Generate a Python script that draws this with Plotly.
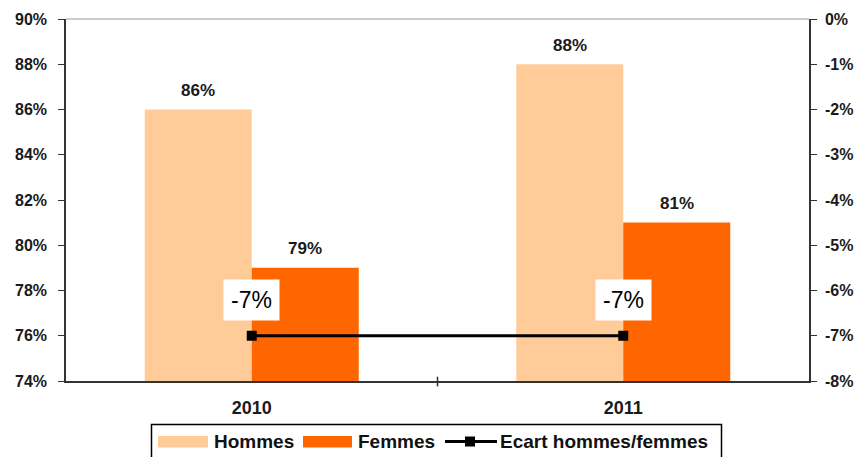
import plotly.graph_objects as go

categories = ["2010", "2011"]
hommes = [0.86, 0.88]
femmes = [0.79, 0.81]
ecart = [-0.07, -0.07]
left_ticks = [0.74, 0.76, 0.78, 0.80, 0.82, 0.84, 0.86, 0.88, 0.90]
right_ticks = [-0.08, -0.07, -0.06, -0.05, -0.04, -0.03, -0.02, -0.01, 0.0]
series_names = ["Hommes", "Femmes", "Ecart hommes/femmes"]

FONT = "Liberation Sans, Arial, sans-serif"
C_H = "#FFCC99"
C_F = "#FF6600"

W, H = 858, 457
ML, MR, MT, MB = 66, 49, 19, 76
PW, PH = W - ML - MR, H - MT - MB


def px(x):
    return (x - ML) / PW


def py(y):
    return (H - MB - y) / PH


fig = go.Figure()
fig.add_trace(go.Bar(x=categories, y=hommes, name=series_names[0], marker_color=C_H,
                     marker_line_width=0))
fig.add_trace(go.Bar(x=categories, y=femmes, name=series_names[1], marker_color=C_F,
                     marker_line_width=0))
fig.add_trace(go.Scatter(x=categories, y=ecart, name=series_names[2], yaxis="y2",
                         mode="lines+markers", line=dict(color="black", width=3),
                         marker=dict(symbol="square", size=10, color="black")))

# value labels (category axis: annotation x is the category index)
for i, c in enumerate(categories):
    for val, off in ((hommes[i], -0.5), (femmes[i], 0.5)):
        fig.add_annotation(x=i, y=val, text=f"<b>{round(val*100)}%</b>", showarrow=False,
                           xref="x", yref="y", xshift=off * 107, yshift=19,
                           font=dict(family=FONT, size=17, color="#1a1a1a"))
    fig.add_annotation(x=i, y=ecart[i], xref="x", yref="y2", text=f"{round(ecart[i]*100)}%",
                       showarrow=False, yshift=36, bgcolor="white", borderpad=7,
                       font=dict(family=FONT, size=23, color="black"))

axis_font = dict(family=FONT, size=16, color="#1a1a1a", weight="bold")
fig.update_layout(
    width=W, height=H,
    margin=dict(l=ML, r=MR, t=MT, b=MB),
    plot_bgcolor="white", paper_bgcolor="white",
    barmode="group", bargap=0.424, bargroupgap=0,
    font=dict(family=FONT, size=13, color="#222"),
    showlegend=False,
    xaxis=dict(type="category", range=[-0.5, 1.5], showline=True, linecolor="#333",
               linewidth=1.5, ticks="", showgrid=False, automargin=False,
               ticklabelstandoff=10,
               tickfont=dict(family=FONT, size=18, color="#1a1a1a", weight="bold")),
    yaxis=dict(range=[0.74, 0.90], tickvals=left_ticks,
               ticktext=[f"{round(v*100)}%" for v in left_ticks],
               showline=True, linecolor="#333", linewidth=1.5, ticks="outside", ticklen=6,
               tickcolor="#333", showgrid=False, zeroline=False, automargin=False,
               ticklabelstandoff=8, tickfont=axis_font),
    yaxis2=dict(range=[-0.08, 0.0], overlaying="y", side="right", tickvals=right_ticks,
                ticktext=[f"{round(v*100)}%" for v in right_ticks],
                showline=True, linecolor="#333", linewidth=1.5, ticks="outside", ticklen=6,
                tickcolor="#333", showgrid=False, zeroline=False, automargin=False,
                ticklabelstandoff=5, tickfont=axis_font),
)
# top border of plot area
fig.add_shape(type="line", xref="paper", yref="paper", x0=0, x1=1, y0=1, y1=1,
              line=dict(color="#999", width=1))
# category separator tick
fig.add_shape(type="line", xref="paper", yref="paper", x0=0.5, x1=0.5, y0=0.012, y1=-0.015,
              line=dict(color="#333", width=1.5))

# custom legend
fig.add_shape(type="rect", xref="paper", yref="paper", x0=px(151.5), x1=px(721.5),
              y0=py(424.5), y1=py(462), line=dict(color="black", width=1.5),
              fillcolor="white", layer="below")
fig.add_shape(type="rect", xref="paper", yref="paper", x0=px(158), x1=px(208),
              y0=py(436), y1=py(447.5), line=dict(width=0), fillcolor=C_H)
fig.add_shape(type="rect", xref="paper", yref="paper", x0=px(303), x1=px(352),
              y0=py(436), y1=py(447.5), line=dict(width=0), fillcolor=C_F)
fig.add_shape(type="line", xref="paper", yref="paper", x0=px(445), x1=px(497),
              y0=py(441.5), y1=py(441.5), line=dict(color="black", width=3))
fig.add_shape(type="rect", xref="paper", yref="paper", x0=px(465), x1=px(475),
              y0=py(436.5), y1=py(446.5), line=dict(width=0), fillcolor="black")
for name, x0 in zip(series_names, (212, 356, 498)):
    fig.add_annotation(xref="paper", yref="paper", x=px(x0), y=py(441.5), xanchor="left",
                       yanchor="middle", showarrow=False, text=f"<b>{name}</b>",
                       font=dict(family=FONT, size=19, color="#111"))

fig.write_html("out.html", config={"displayModeBar": False},
               post_script="document.body.style.margin='0';document.body.style.overflow='hidden';")
